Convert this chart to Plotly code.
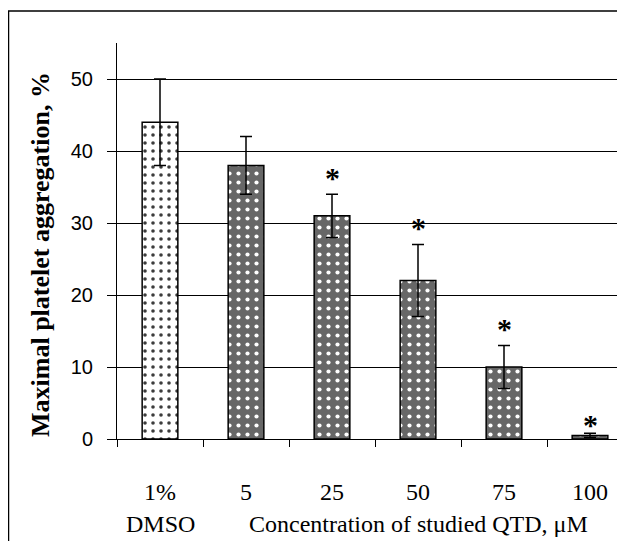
import plotly.graph_objects as go

# ---- data ----
categories = ["1%", "5", "25", "50", "75", "100"]
aggregation = [44, 38, 31, 22, 10, 0.5]
sem = [6, 4, 3, 5, 3, 0.3]
significant = [False, False, True, True, True, True]
second_row_left = "DMSO"
x_title = "Concentration of studied QTD, \u03bcM"
y_title = "Maximal platelet aggregation, %"
y_ticks = [0, 10, 20, 30, 40, 50]

# page body has an 8px margin: figure is drawn at (8, 8)
OFF = 8
W, H = 625 - OFF, 541 - OFF
ML, MR, MT, MB = 117 - OFF, 0, 43 - OFF, H - (439 - OFF)
pw = W - ML - MR
ph = H - MT - MB

n = len(categories)
idx = list(range(n))


def px_x(sx):
    return (sx - OFF - ML) / pw


def px_y(sy):
    return (H - MB - (sy - OFF)) / ph


fig = go.Figure()
groups = [
    (idx[:1], dict(bg="white", fg="#3c3c3c", size=8, sol=0.16)),
    (idx[1:], dict(bg="#676767", fg="white", size=9, sol=0.17)),
]
for ids, st in groups:
    fig.add_trace(go.Bar(
        x=ids, y=[aggregation[i] for i in ids],
        marker=dict(color=st["bg"], line=dict(color="black", width=1.5),
                    pattern=dict(shape=".", bgcolor=st["bg"], fgcolor=st["fg"],
                                 size=st["size"], solidity=st["sol"],
                                 fillmode="replace")),
        error_y=dict(type="data", array=[sem[i] for i in ids], visible=True,
                     color="black", thickness=1.5, width=6),
        width=0.415,
        showlegend=False,
    ))

anns = []
for i, (v, e, s) in enumerate(zip(aggregation, sem, significant)):
    if s:
        anns.append(dict(x=i, y=v + e, xref="x", yref="y", text="<b>*</b>",
                         showarrow=False, yanchor="middle",
                         yshift=17 if v > 5 else 9,
                         font=dict(family="Liberation Serif", size=30, color="black")))

# second row of x labels
anns.append(dict(x=0, y=0, xref="x", yref="paper", text=second_row_left,
                 showarrow=False, yanchor="middle", yshift=-85,
                 font=dict(family="Liberation Serif", size=24, color="black")))
anns.append(dict(x=sum(idx[1:]) / len(idx[1:]), y=0, xref="x", yref="paper",
                 text=x_title, showarrow=False, yanchor="middle", yshift=-85,
                 font=dict(family="Liberation Serif", size=24, color="black")))
# y title
anns.append(dict(x=px_x(40), y=px_y(255), xref="paper", yref="paper",
                 text="<b>" + y_title + "</b>", textangle=-90, showarrow=False,
                 xanchor="center", yanchor="middle",
                 font=dict(family="Liberation Serif", size=26, color="black")))

fig.update_layout(
    width=W, height=H,
    margin=dict(l=ML, r=MR, t=MT, b=MB, pad=0),
    paper_bgcolor="white", plot_bgcolor="white",
    barmode="overlay",
    annotations=anns,
    shapes=[dict(type="rect", xref="paper", yref="paper",
                 x0=px_x(8.5), x1=1.3, y0=-0.6, y1=px_y(11),
                 line=dict(color="black", width=1.5), layer="below")],
)
fig.update_xaxes(
    type="linear", range=[-0.5, -0.5 + pw / 86.0],
    tickvals=idx, ticktext=categories,
    showline=True, linecolor="black", linewidth=1,
    showgrid=False, zeroline=False,
    ticks="", ticklabelstandoff=31,
    tickfont=dict(family="Liberation Serif", size=24, color="black"),
)
fig.update_xaxes(minor=dict(tickvals=[i + 0.5 for i in [-1] + idx], ticks="outside",
                            ticklen=7, tickcolor="black", tickwidth=1, showgrid=False))
fig.update_yaxes(
    range=[0, 55], tickvals=y_ticks,
    showline=True, linecolor="black", linewidth=1,
    showgrid=True, gridcolor="black", gridwidth=1, zeroline=False,
    ticks="outside", ticklen=9, tickcolor="black",
    ticklabelstandoff=10,
    tickfont=dict(family="Liberation Sans", size=20, color="black"),
)
fig.write_html("out.html")
